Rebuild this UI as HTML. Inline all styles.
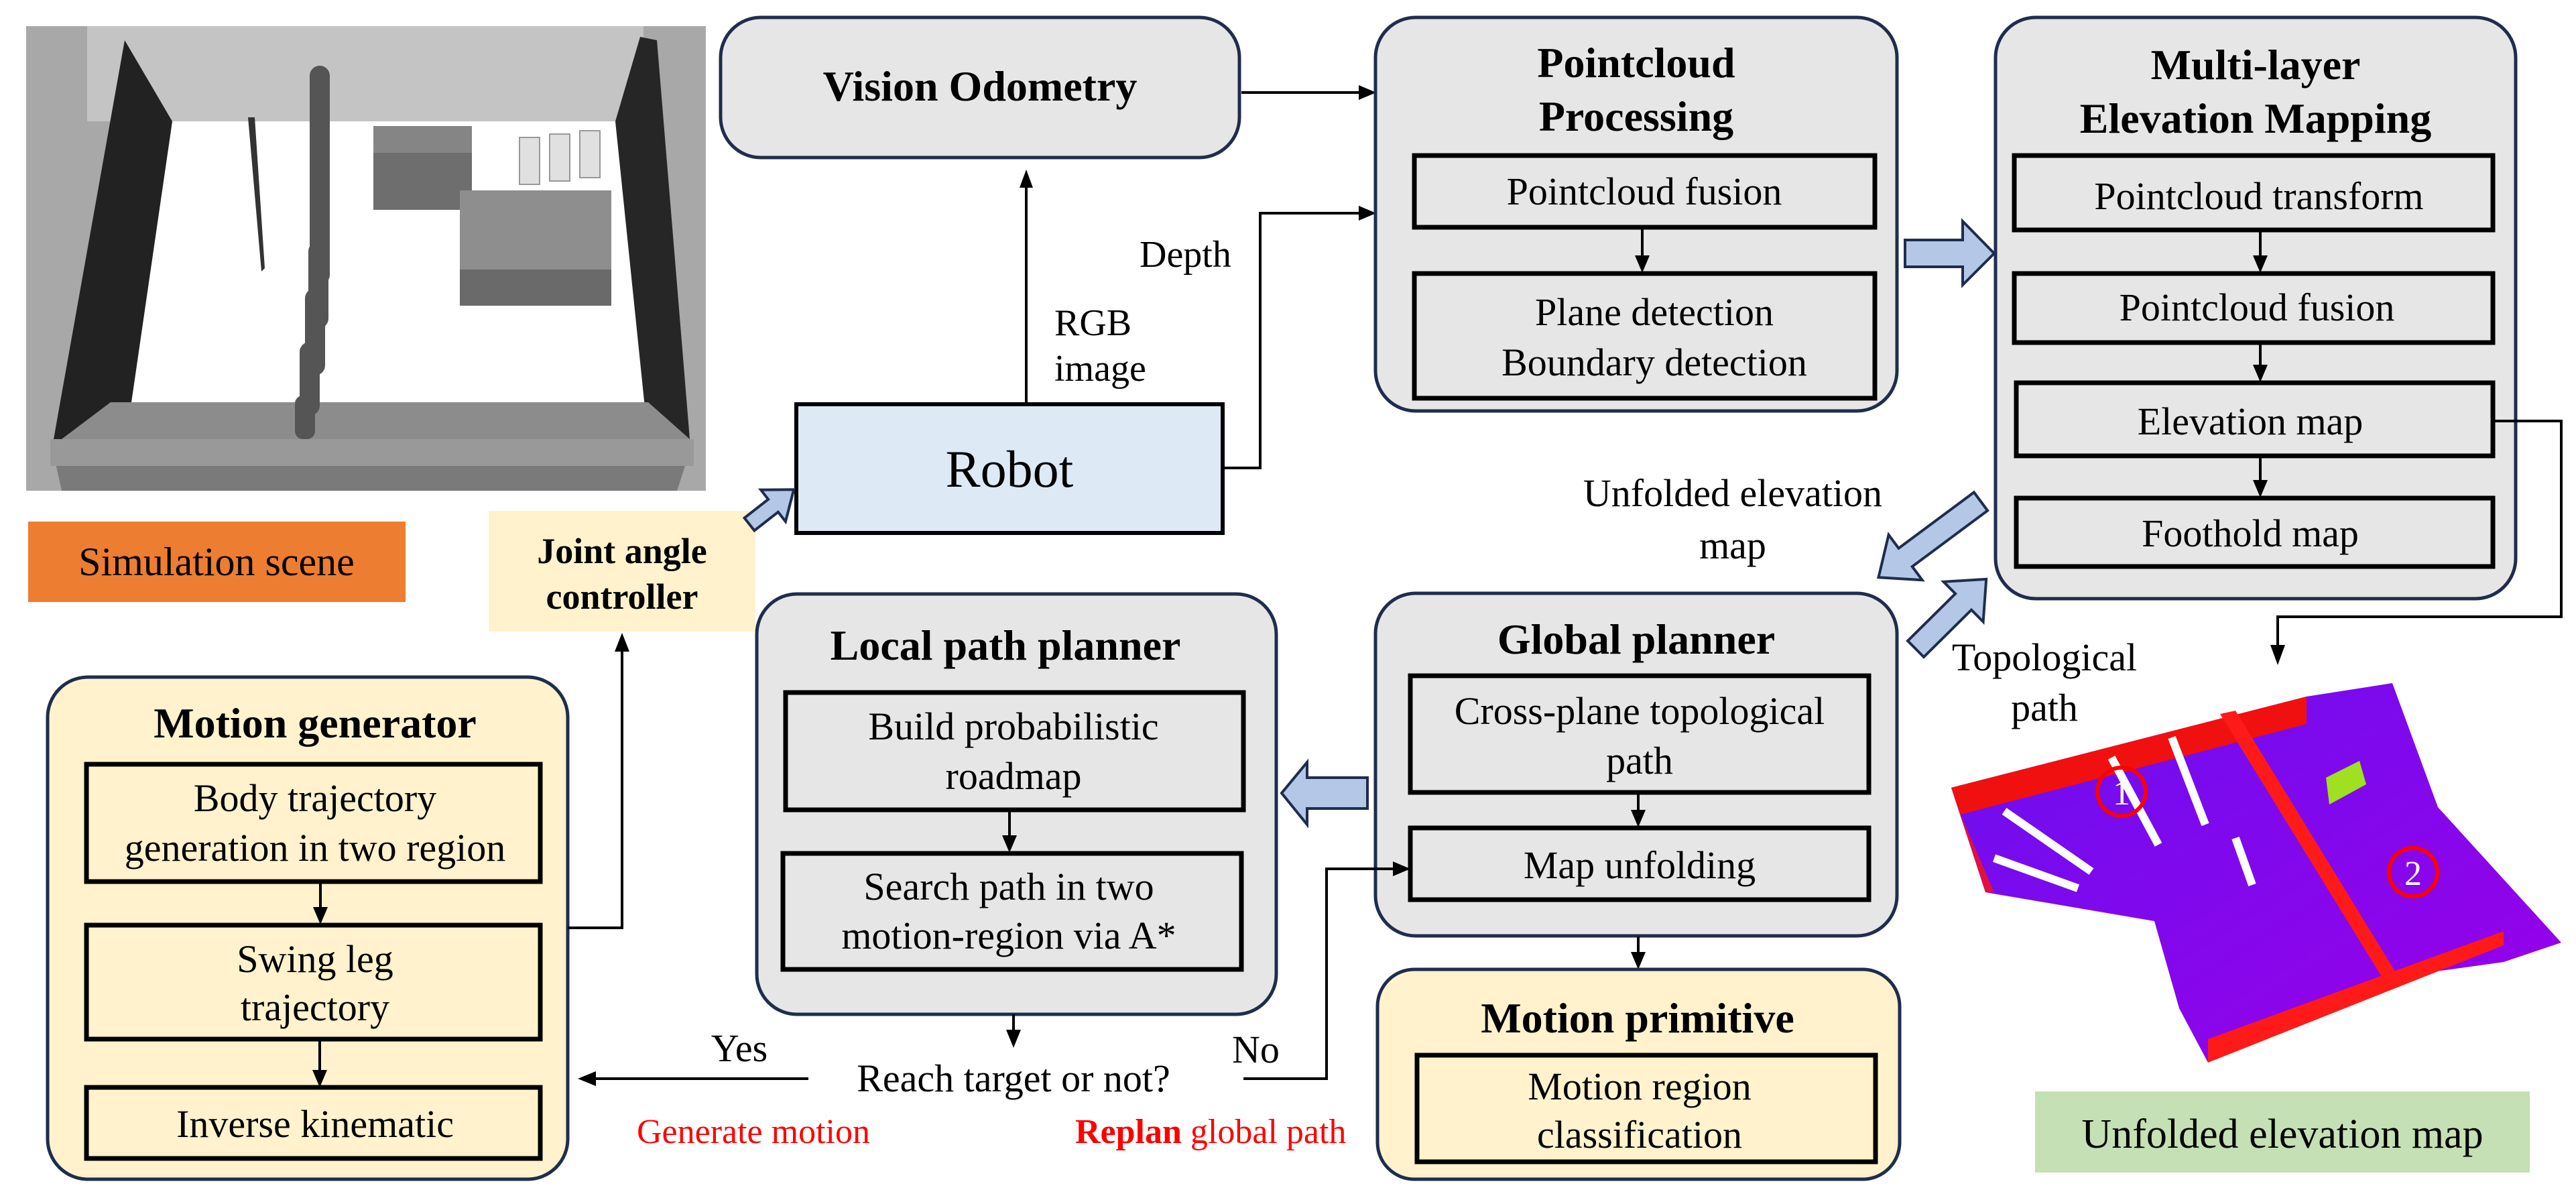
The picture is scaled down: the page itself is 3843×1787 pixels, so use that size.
<!DOCTYPE html>
<html><head><meta charset="utf-8"><style>
html,body{margin:0;padding:0;background:#fff;}
svg{display:block;}
svg text{font-family:"Liberation Serif","Times New Roman",serif;fill:#000;}
.t{font-size:64px;font-weight:bold;text-anchor:middle;}
.b{font-size:58px;text-anchor:middle;}
.ob{fill:#e6e6e6;stroke:#1f2d4d;stroke-width:5;}
.oy{fill:#fff2cc;stroke:#1f2d4d;stroke-width:5;}
.ib{fill:#e6e6e6;stroke:#000;stroke-width:7;}
.iy{fill:#fff2cc;stroke:#000;stroke-width:7;}
.ln{stroke:#000;stroke-width:4;fill:none;}
.ba{fill:#b4c7e7;stroke:#1f2d4d;stroke-width:4;}
.ah{fill:#000;stroke:none;}
</style></head><body>
<svg width="3843" height="1787" viewBox="0 0 3843 1787" xmlns="http://www.w3.org/2000/svg" font-family="'Liberation Serif', serif">
<defs>
<linearGradient id="pg" x1="0" y1="0" x2="1" y2="1">
<stop offset="0" stop-color="#6a10f0"/><stop offset="1" stop-color="#9a00e8"/>
</linearGradient>
</defs>

<!-- Simulation scene -->
<rect x="39" y="39" width="1014" height="693" fill="#a8a8a8"/>
<rect x="130" y="39" width="830" height="142" fill="#c4c4c4"/>
<polygon points="257,181 918,181 961,600 196,600" fill="#fff"/>
<polygon points="186,60 257,181 196,600 175,655 80,655" fill="#222"/>
<polygon points="955,55 980,60 1029,655 967,655 918,181" fill="#262626"/>
<polygon points="165,600 967,600 1029,655 92,655" fill="#8c8c8c"/>
<polygon points="75,655 1035,655 1010,732 92,732" fill="#7a7a7a"/>
<rect x="75" y="655" width="960" height="40" fill="#999"/>
<rect x="557" y="188" width="147" height="125" fill="#6e6e6e"/>
<rect x="557" y="188" width="147" height="40" fill="#858585"/>
<rect x="686" y="284" width="226" height="172" fill="#6a6a6a"/>
<rect x="686" y="284" width="226" height="118" fill="#8e8e8e"/>
<g fill="#555">
<rect x="462" y="98" width="30" height="130" rx="15"/>
<rect x="462" y="165" width="30" height="130" rx="15"/>
<rect x="462" y="230" width="30" height="130" rx="15"/>
<rect x="462" y="295" width="30" height="130" rx="15"/>
<rect x="460" y="360" width="30" height="130" rx="15"/>
<rect x="455" y="430" width="30" height="130" rx="15"/>
<rect x="447" y="510" width="30" height="110" rx="15"/>
<rect x="440" y="590" width="30" height="65" rx="12"/>
</g>
<polygon points="370,175 380,175 395,400 390,405" fill="#333"/>
<g fill="#e0e0e0" stroke="#999" stroke-width="2"><rect x="775" y="205" width="30" height="70"/><rect x="820" y="200" width="30" height="70"/><rect x="865" y="195" width="30" height="70"/></g>

<rect x="42" y="778" width="563" height="120" fill="#ed7d31"/>
<text class="b" x="323" y="858" style="font-size:60px">Simulation scene</text>

<!-- Joint angle controller -->
<rect x="729" y="762" width="398" height="180" fill="#fff2cc"/>
<text class="t" x="928" y="840" style="font-size:54px">Joint angle</text>
<text class="t" x="928" y="908" style="font-size:54px">controller</text>

<!-- Vision Odometry -->
<rect class="ob" x="1075" y="26" width="774" height="209" rx="60"/>
<text class="t" x="1462" y="150">Vision Odometry</text>

<!-- Robot -->
<rect x="1188" y="603" width="636" height="192" fill="#dee9f6" stroke="#000" stroke-width="6"/>
<text class="b" x="1506" y="726" style="font-size:78px">Robot</text>

<!-- RGB arrow -->
<line class="ln" x1="1531" y1="600" x2="1531" y2="275"/>
<polygon class="ah" points="1521,280 1541,280 1531,253"/>
<text x="1573" y="500" style="font-size:56px">RGB</text>
<text x="1573" y="568" style="font-size:56px">image</text>
<text x="1700" y="398" style="font-size:56px">Depth</text>
<polyline class="ln" points="1824,698 1880,698 1880,318 2030,318"/>
<polygon class="ah" points="2027,307 2027,329 2053,318"/>
<line class="ln" x1="1852" y1="138" x2="2030" y2="138"/>
<polygon class="ah" points="2027,127 2027,149 2053,138"/>

<!-- Pointcloud Processing -->
<rect class="ob" x="2052" y="26" width="778" height="587" rx="60"/>
<text class="t" x="2441" y="115">Pointcloud</text>
<text class="t" x="2441" y="195">Processing</text>
<rect class="ib" x="2110" y="232" width="687" height="107"/>
<text class="b" x="2453" y="305">Pointcloud fusion</text>
<line class="ln" x1="2450" y1="340" x2="2450" y2="385"/>
<polygon class="ah" points="2439,381 2461,381 2450,407"/>
<rect class="ib" x="2110" y="408" width="687" height="186"/>
<text class="b" x="2468" y="485">Plane detection</text>
<text class="b" x="2468" y="560">Boundary detection</text>

<!-- block arrow PC -> ML -->
<polygon class="ba" points="2842,358 2928,358 2928,330 2975,378 2928,425 2928,398 2842,398"/>

<!-- Multi-layer -->
<rect class="ob" x="2977" y="26" width="776" height="867" rx="60"/>
<text class="t" x="3365" y="118">Multi-layer</text>
<text class="t" x="3365" y="198">Elevation Mapping</text>
<rect class="ib" x="3005" y="232" width="714" height="111"/>
<text class="b" x="3370" y="312">Pointcloud transform</text>
<line class="ln" x1="3372" y1="344" x2="3372" y2="385"/>
<polygon class="ah" points="3361,381 3383,381 3372,407"/>
<rect class="ib" x="3005" y="408" width="714" height="103"/>
<text class="b" x="3367" y="478">Pointcloud fusion</text>
<line class="ln" x1="3372" y1="512" x2="3372" y2="548"/>
<polygon class="ah" points="3361,544 3383,544 3372,570"/>
<rect class="ib" x="3008" y="571" width="711" height="109"/>
<text class="b" x="3357" y="648">Elevation map</text>
<line class="ln" x1="3372" y1="681" x2="3372" y2="720"/>
<polygon class="ah" points="3361,716 3383,716 3372,742"/>
<rect class="ib" x="3008" y="743" width="711" height="102"/>
<text class="b" x="3357" y="815">Foothold map</text>
<polyline class="ln" points="3719,628 3821,628 3821,920 3398,920 3398,965"/>
<polygon class="ah" points="3387,962 3409,962 3398,992"/>

<!-- Unfolded elevation map label and diagonal arrows -->
<text class="b" x="2585" y="755">Unfolded elevation</text>
<text class="b" x="2585" y="833">map</text>
<g transform="translate(2955,748) rotate(143.4)"><polygon class="ba" points="0,-17 140,-17 140,-42 190,0 140,42 140,17 0,17"/></g>
<g transform="translate(2858,968) rotate(-44.7)"><polygon class="ba" points="0,-17 100,-17 100,-42 148,0 100,42 100,17 0,17"/></g>
<text class="b" x="3050" y="1000">Topological</text>
<text class="b" x="3050" y="1075">path</text>

<!-- Elevation map image -->
<polygon points="2911,1175 3441,1039 3569,1019 3637,1204 3821,1406 3735,1435 3569,1458 3294,1585 3251,1504 3214,1374 2962,1331" fill="url(#pg)"/>
<polygon points="2911,1175 3441,1039 3441,1080 2925,1215" fill="#f01010"/>
<polygon points="2911,1175 2925,1215 2975,1331 2962,1331" fill="#e01040"/>
<polygon points="3312,1065 3335,1060 3575,1452 3555,1460" fill="#ff1a1a"/>
<polygon points="3294,1550 3735,1389 3735,1410 3294,1585" fill="#ff1a1a"/>
<polygon points="3470,1160 3520,1135 3530,1170 3475,1200" fill="#9fe020"/>
<g stroke="#fff" stroke-width="12">
<line x1="2990" y1="1210" x2="3120" y2="1300"/>
<line x1="2975" y1="1280" x2="3100" y2="1325"/>
<line x1="3150" y1="1130" x2="3220" y2="1260"/>
<line x1="3240" y1="1100" x2="3290" y2="1230"/>
<line x1="3335" y1="1250" x2="3360" y2="1320"/>
</g>
<circle cx="3165" cy="1181" r="36" fill="none" stroke="#ff0000" stroke-width="6"/>
<text x="3165" y="1200" style="font-size:52px;fill:#fff;text-anchor:middle">1</text>
<circle cx="3600" cy="1301" r="36" fill="none" stroke="#ff0000" stroke-width="6"/>
<text x="3600" y="1320" style="font-size:52px;fill:#fff;text-anchor:middle">2</text>

<rect x="3036" y="1628" width="738" height="121" fill="#c5e0b4"/>
<text class="b" x="3405" y="1712" style="font-size:62px">Unfolded elevation map</text>

<!-- Global planner -->
<rect class="ob" x="2052" y="885" width="778" height="511" rx="60"/>
<text class="t" x="2441" y="975">Global planner</text>
<rect class="ib" x="2104" y="1008" width="684" height="174"/>
<text class="b" x="2446" y="1080">Cross-plane topological</text>
<text class="b" x="2446" y="1154">path</text>
<line class="ln" x1="2444" y1="1183" x2="2444" y2="1212"/>
<polygon class="ah" points="2433,1208 2455,1208 2444,1234"/>
<rect class="ib" x="2104" y="1235" width="684" height="107"/>
<text class="b" x="2446" y="1310">Map unfolding</text>
<line class="ln" x1="2444" y1="1397" x2="2444" y2="1424"/>
<polygon class="ah" points="2433,1420 2455,1420 2444,1446"/>

<!-- GP -> LPP block arrow -->
<polygon class="ba" points="2040,1160 1950,1160 1950,1137 1912,1183 1950,1230 1950,1206 2040,1206"/>

<!-- Motion primitive -->
<rect class="oy" x="2055" y="1446" width="779" height="313" rx="55"/>
<text class="t" x="2443" y="1540">Motion primitive</text>
<rect class="iy" x="2114" y="1574" width="684" height="159"/>
<text class="b" x="2446" y="1640">Motion region</text>
<text class="b" x="2446" y="1712">classification</text>

<!-- Local path planner -->
<rect class="ob" x="1129" y="886" width="775" height="627" rx="60"/>
<text class="t" x="1500" y="984">Local path planner</text>
<rect class="ib" x="1172" y="1033" width="683" height="175"/>
<text class="b" x="1512" y="1103">Build probabilistic</text>
<text class="b" x="1512" y="1177">roadmap</text>
<line class="ln" x1="1506" y1="1209" x2="1506" y2="1250"/>
<polygon class="ah" points="1495,1246 1517,1246 1506,1272"/>
<rect class="ib" x="1168" y="1273" width="684" height="173"/>
<text class="b" x="1505" y="1342">Search path in two</text>
<text class="b" x="1505" y="1415">motion-region via A*</text>
<line class="ln" x1="1512" y1="1513" x2="1512" y2="1540"/>
<polygon class="ah" points="1501,1536 1523,1536 1512,1563"/>

<text class="b" x="1512" y="1628">Reach target or not?</text>
<text class="b" x="1103" y="1583">Yes</text>
<line class="ln" x1="1206" y1="1609" x2="885" y2="1609"/>
<polygon class="ah" points="889,1598 889,1620 862,1609"/>
<text x="1124" y="1705" style="font-size:52px;fill:#ff0000;text-anchor:middle">Generate motion</text>
<text x="1838" y="1585" style="font-size:58px">No</text>
<polyline class="ln" points="1855,1609 1979,1609 1979,1296 2082,1296"/>
<polygon class="ah" points="2078,1285 2078,1307 2104,1296"/>
<text x="1604" y="1705" style="font-size:52px;fill:#ff0000"><tspan font-weight="bold">Replan</tspan> global path</text>

<!-- Motion generator -->
<rect class="oy" x="71" y="1010" width="776" height="749" rx="60"/>
<text class="t" x="470" y="1100">Motion generator</text>
<rect class="iy" x="129" y="1140" width="677" height="175"/>
<text class="b" x="470" y="1210">Body trajectory</text>
<text class="b" x="470" y="1284">generation in two region</text>
<line class="ln" x1="478" y1="1316" x2="478" y2="1357"/>
<polygon class="ah" points="467,1353 489,1353 478,1379"/>
<rect class="iy" x="129" y="1380" width="677" height="170"/>
<text class="b" x="470" y="1450">Swing leg</text>
<text class="b" x="470" y="1522">trajectory</text>
<line class="ln" x1="477" y1="1551" x2="477" y2="1600"/>
<polygon class="ah" points="466,1596 488,1596 477,1622"/>
<rect class="iy" x="129" y="1622" width="677" height="106"/>
<text class="b" x="470" y="1696">Inverse kinematic</text>
<polyline class="ln" points="847,1384 928,1384 928,968"/>
<polygon class="ah" points="917,972 939,972 928,944"/>

<!-- Joint -> Robot block arrow -->
<g transform="translate(1118,782) rotate(-38)"><polygon class="ba" points="0,-12 45,-12 45,-30 84,0 45,30 45,12 0,12"/></g>
</svg>
</body></html>
